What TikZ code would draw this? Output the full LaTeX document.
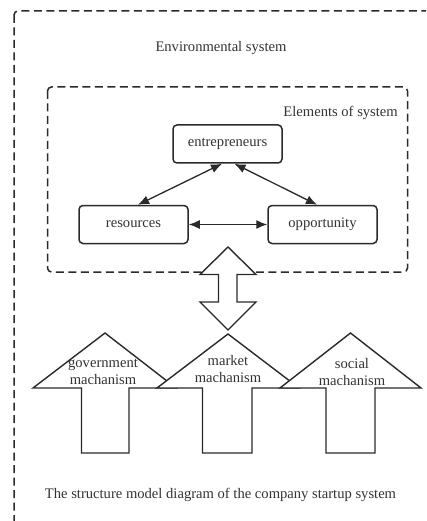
\documentclass[tikz,border=0pt]{standalone}
\usepackage{fontspec}
\setmainfont{Liberation Serif}
\usetikzlibrary{arrows.meta}
\definecolor{ink}{HTML}{2A2A2A}
\definecolor{txt}{HTML}{333333}
\tikzset{
  dashbox/.style={draw=ink, line width=1.5pt, dash pattern=on 8pt off 4.5pt, rounded corners=4pt},
  elembox/.style={draw=ink, line width=1.5pt, rounded corners=4pt, minimum width=109pt, minimum height=38pt, inner sep=0pt, text=txt},
  lbl/.style={text=txt, inner sep=0pt, align=center},
  link/.style={draw=ink, line width=1.3pt, {Latex[length=11pt,width=9pt]}-{Latex[length=11pt,width=9pt]}},
  blockarrow/.style={draw=ink, line width=1.4pt, fill=white, line join=miter},
}
\begin{document}
\begin{tikzpicture}[x=1pt,y=-1pt,font=\fontsize{14.6}{17.5}\selectfont]
\useasboundingbox (0,0) rectangle (426,521);
\fill[white] (0,0) rectangle (426,521);
\begin{scope}
\clip (0,0) rectangle (426,521);
\draw[dashbox] (14,11) rectangle (470,580);
\end{scope}
\node[lbl] (env) at (221,48) {Environmental system};
\draw[dashbox] (47.5,87) rectangle (407.5,272);
\node[lbl, anchor=east] (elem) at (398,113) {Elements of system};
\node[elembox] (ent) at (227.5,144) {entrepreneurs};
\node[elembox] (res) at (133.5,224.5) {resources};
\node[elembox] (opp) at (322.5,224.5) {opportunity};
\draw[link] ([xshift=-5.5pt]ent.south) -- ([xshift=4.5pt]res.north);
\draw[link] ([xshift=7pt]ent.south) -- ([xshift=-5.5pt]opp.north);
\draw[link] (res.east) -- (opp.west);
% double block arrow
\draw[blockarrow] (228,247) -- (256,274.5) -- (237,274.5) -- (237,302) -- (256,302) -- (228,330)
  -- (200,302) -- (218.5,302) -- (218.5,274.5) -- (200,274.5) -- cycle;
% up arrows
\draw[blockarrow] (105,333) -- (176,388) -- (129,388) -- (129,453) -- (81.5,453) -- (81.5,388) -- (33,388) -- cycle;
\draw[blockarrow] (228,334) -- (299,388) -- (252,388) -- (252,453) -- (202.5,453) -- (202.5,388) -- (157,388) -- cycle;
\draw[blockarrow] (350.5,333) -- (421,388) -- (375,388) -- (375,453) -- (326,453) -- (326,388) -- (280,388) -- cycle;
\node[lbl] (gov) at (103,372) {government\\[-0.5pt]machanism};
\node[lbl] (mkt) at (228,369) {market\\[-0.5pt]machanism};
\node[lbl] (soc) at (352,372) {social\\[-0.5pt]machanism};
\node[lbl] (cap) at (220.5,495) {The structure model diagram of the company startup system};
\end{tikzpicture}
\end{document}
